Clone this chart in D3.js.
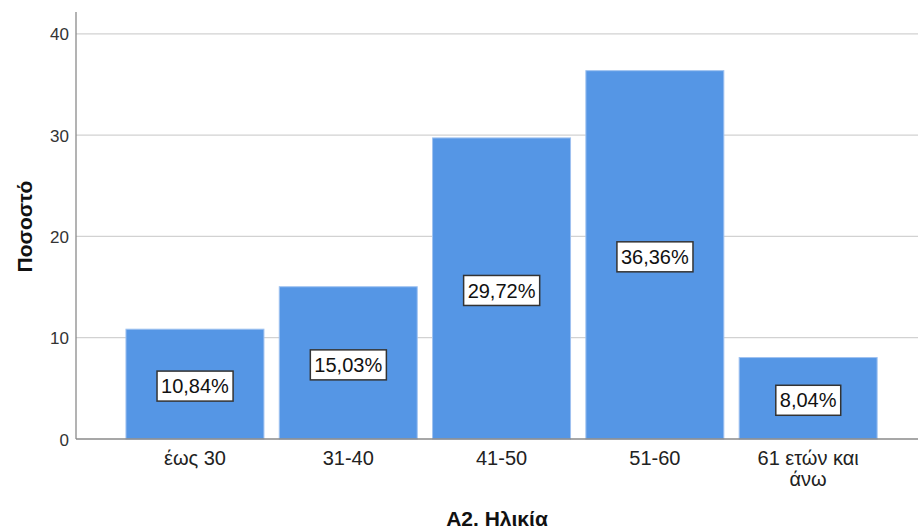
<!DOCTYPE html>
<html>
<head>
<meta charset="utf-8">
<script src="https://cdn.jsdelivr.net/npm/d3@7"></script>
<style>
  body { margin: 0; background: #fff; }
  svg { font-family: Arial, "Liberation Sans", sans-serif; }
</style>
</head>
<body>
<svg id="chart" width="918" height="529"></svg>
<script>
// age groups and their share (%)
const categories = ['έως 30', '31-40', '41-50', '51-60', '61 ετών και άνω'];
const values = [10.84, 15.03, 29.72, 36.36, 8.04];
const yTicks = [0, 10, 20, 30, 40];

const svg = d3.select('#chart');
const plotLeft = 76;
const plotRight = 918;
const plotTop = 12;
const plotBottom = 439;

const x = d3.scaleBand()
  .domain(categories)
  .range([118.3, 884.8])
  .paddingInner(0.1)
  .paddingOuter(0.05);

const y = d3.scaleLinear()
  .domain([0, 42.15])
  .range([plotBottom, plotTop]);

// gridlines
svg.append('g')
  .selectAll('line')
  .data(yTicks.filter(d => d > 0))
  .enter()
  .append('line')
  .attr('x1', plotLeft)
  .attr('x2', plotRight)
  .attr('y1', d => y(d))
  .attr('y2', d => y(d))
  .attr('stroke', '#d2d2d2')
  .attr('stroke-width', 1.3);

// bars
svg.append('g')
  .selectAll('rect')
  .data(values)
  .enter()
  .append('rect')
  .attr('x', (d, i) => x(categories[i]))
  .attr('y', d => y(d))
  .attr('width', x.bandwidth())
  .attr('height', d => plotBottom - y(d))
  .attr('fill', '#5596e5')
  .attr('stroke', '#9fc2f0')
  .attr('stroke-width', 1);

// y axis
const yAxis = svg.append('g')
  .attr('transform', `translate(${plotLeft},0)`)
  .call(d3.axisLeft(y).tickValues(yTicks).tickSize(0).tickPadding(7));
yAxis.select('.domain').remove();
yAxis.selectAll('text')
  .attr('fill', '#333')
  .style('font-size', '17px')
  .attr('dy', '0.36em');

svg.append('line')
  .attr('x1', plotLeft).attr('x2', plotLeft)
  .attr('y1', plotTop).attr('y2', plotBottom)
  .attr('stroke', '#8a8a8a')
  .attr('stroke-width', 1.3);

// x axis
const xAxis = svg.append('g')
  .attr('transform', `translate(0,${plotBottom})`)
  .call(d3.axisBottom(x).tickSize(0).tickPadding(12));
xAxis.select('.domain').remove();
xAxis.selectAll('text')
  .attr('fill', '#222')
  .style('font-size', '20px')
  .each(function (d) {
    const t = d3.select(this);
    if (d === '61 ετών και άνω') {
      t.text(null);
      t.append('tspan').attr('x', 0).attr('dy', '0.71em').text('61 ετών και');
      t.append('tspan').attr('x', 0).attr('dy', '1.02em').text('άνω');
      t.attr('dy', null);
    }
  });

svg.append('line')
  .attr('x1', plotLeft).attr('x2', plotRight)
  .attr('y1', plotBottom).attr('y2', plotBottom)
  .attr('stroke', '#8a8a8a')
  .attr('stroke-width', 1.3);

// value labels
const labels = svg.append('g')
  .selectAll('g')
  .data(values)
  .enter()
  .append('g')
  .attr('transform', (d, i) => `translate(${x(categories[i]) + x.bandwidth() / 2},${(y(d) + plotBottom) / 2 + 2})`);

labels.append('text')
  .attr('text-anchor', 'middle')
  .attr('dy', '0.36em')
  .style('font-size', '20px')
  .attr('fill', '#111')
  .text(d => `${d.toFixed(2).replace('.', ',')}%`)
  .each(function () {
    const b = this.getBBox();
    d3.select(this.parentNode).insert('rect', 'text')
      .attr('x', b.x - 4)
      .attr('y', -15)
      .attr('width', b.width + 8)
      .attr('height', 30)
      .attr('fill', '#fff')
      .attr('stroke', '#333')
      .attr('stroke-width', 1.5);
  });

// axis titles
svg.append('text')
  .attr('transform', `translate(32,${(plotTop + plotBottom) / 2 + 1}) rotate(-90)`)
  .attr('text-anchor', 'middle')
  .style('font-size', '21px')
  .style('font-weight', 'bold')
  .attr('fill', '#111')
  .text('Ποσοστό');

svg.append('text')
  .attr('x', (plotLeft + plotRight) / 2)
  .attr('y', 526)
  .attr('text-anchor', 'middle')
  .style('font-size', '21px')
  .style('font-weight', 'bold')
  .attr('fill', '#111')
  .text('A2. Ηλικία');
</script>
</body>
</html>
